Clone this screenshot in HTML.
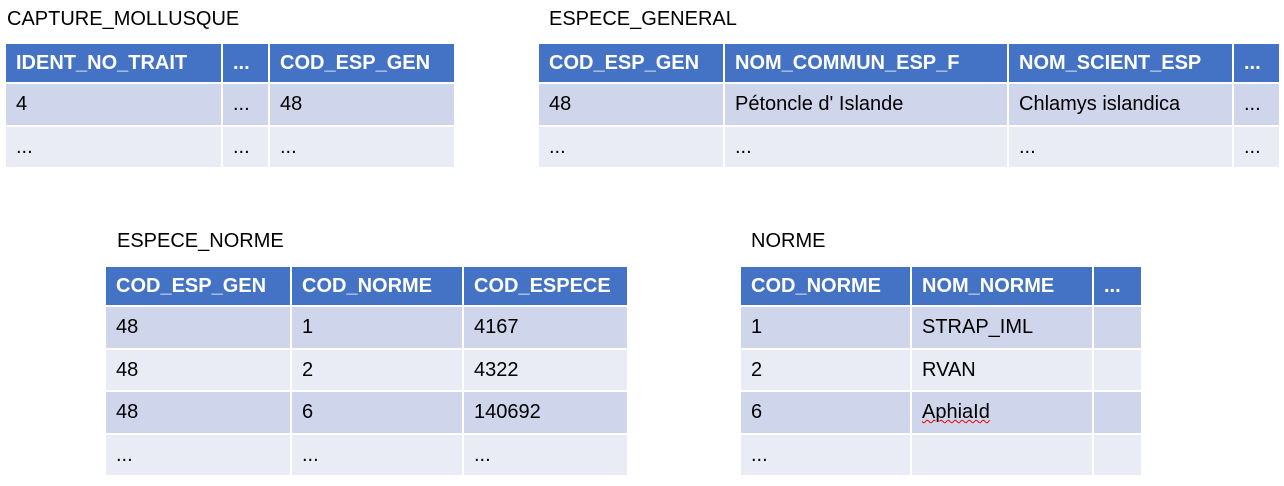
<!DOCTYPE html>
<html><head><meta charset="utf-8"><style>
body{margin:0;width:1284px;height:486px;background:#fff;position:relative;overflow:hidden;font-family:"Liberation Sans",sans-serif;}
.t{position:absolute;font-size:20px;color:#000;white-space:nowrap}
table{position:absolute;border-collapse:collapse;table-layout:fixed}
td{border:2px solid #fff;padding:0 0 0 10px;font-size:20px;white-space:nowrap;overflow:hidden;box-sizing:border-box}
tr.h td{background:#4472C4;color:#fff;font-weight:bold;height:40px}
tr.o td{background:#CFD5EA;height:43px}
tr.e td{background:#E9EBF5;height:42px}
</style></head><body>
<div class="t" style="left:7px;top:8px">CAPTURE_MOLLUSQUE</div>
<table style="left:4px;top:42px;width:450px">
<colgroup><col style="width:217px"><col style="width:47px"><col style="width:186px"></colgroup>
<tr class="h"><td>IDENT_NO_TRAIT</td><td>...</td><td>COD_ESP_GEN</td></tr>
<tr class="o"><td>4</td><td>...</td><td>48</td></tr>
<tr class="e"><td>...</td><td>...</td><td>...</td></tr>
</table>

<div class="t" style="left:549px;top:8px">ESPECE_GENERAL</div>
<table style="left:537px;top:42px;width:742px">
<colgroup><col style="width:186px"><col style="width:284px"><col style="width:225px"><col style="width:47px"></colgroup>
<tr class="h"><td>COD_ESP_GEN</td><td>NOM_COMMUN_ESP_F</td><td>NOM_SCIENT_ESP</td><td>...</td></tr>
<tr class="o"><td>48</td><td>Pétoncle d' Islande</td><td>Chlamys islandica</td><td>...</td></tr>
<tr class="e"><td>...</td><td>...</td><td>...</td><td>...</td></tr>
</table>

<div class="t" style="left:117px;top:230px">ESPECE_NORME</div>
<table style="left:104px;top:265px;width:523px">
<colgroup><col style="width:186px"><col style="width:172px"><col style="width:165px"></colgroup>
<tr class="h"><td>COD_ESP_GEN</td><td>COD_NORME</td><td>COD_ESPECE</td></tr>
<tr class="o"><td>48</td><td>1</td><td>4167</td></tr>
<tr class="e"><td>48</td><td>2</td><td>4322</td></tr>
<tr class="o"><td>48</td><td>6</td><td>140692</td></tr>
<tr class="e"><td>...</td><td>...</td><td>...</td></tr>
</table>

<div class="t" style="left:751px;top:230px">NORME</div>
<table style="left:739px;top:265px;width:402px">
<colgroup><col style="width:171px"><col style="width:182px"><col style="width:49px"></colgroup>
<tr class="h"><td>COD_NORME</td><td>NOM_NORME</td><td>...</td></tr>
<tr class="o"><td>1</td><td>STRAP_IML</td><td></td></tr>
<tr class="e"><td>2</td><td>RVAN</td><td></td></tr>
<tr class="o"><td>6</td><td><span style="text-decoration:underline wavy #e00;text-decoration-thickness:1px">AphiaId</span></td><td></td></tr>
<tr class="e"><td>...</td><td></td><td></td></tr>
</table>
</body></html>
